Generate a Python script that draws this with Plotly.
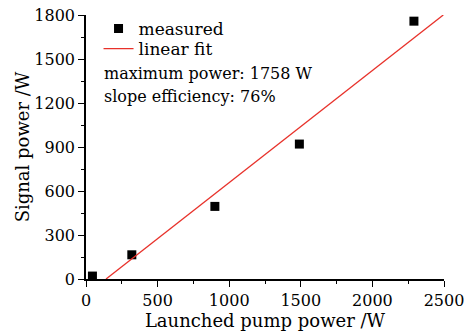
import plotly.graph_objects as go

pump = [45, 320, 900, 1490, 2290]
signal = [20, 165, 495, 920, 1758]
fit_x = [140, 2495]
fit_y = [0, 1800]
x_ticks = [0, 500, 1000, 1500, 2000, 2500]
y_ticks = [0, 300, 600, 900, 1200, 1500, 1800]

FONT = "DejaVu Serif"

fig = go.Figure()
fig.add_trace(go.Scatter(x=pump, y=signal, mode="markers", name="measured",
                         marker=dict(symbol="square", size=9, color="black"),
                         legend="legend"))
fig.add_trace(go.Scatter(x=fit_x, y=fit_y, mode="lines", name="linear fit",
                         line=dict(color="#e8312a", width=1.3), legend="legend2"))

leg_common = dict(xanchor="left", yanchor="middle", bgcolor="rgba(0,0,0,0)",
                  font=dict(size=17), itemwidth=30, borderwidth=0)

fig.update_layout(
    width=476, height=334,
    margin=dict(l=86, r=32, t=15, b=55, autoexpand=False),
    paper_bgcolor="white", plot_bgcolor="white",
    font=dict(family=FONT, size=16, color="black"),
    showlegend=True,
    legend=dict(x=0.035, y=1.0 - (29 - 15) / 264, **leg_common),
    legend2=dict(x=0.035, y=1.0 - (49 - 15) / 264, **leg_common),
    annotations=[
        dict(x=(102 - 86) / 358, y=1.0 - (73 - 15) / 264, xref="paper", yref="paper",
             xanchor="left", yanchor="middle",
             text="maximum power: 1758 W", showarrow=False, font=dict(size=16)),
        dict(x=(102 - 86) / 358, y=1.0 - (96 - 15) / 264, xref="paper", yref="paper",
             xanchor="left", yanchor="middle",
             text="slope efficiency: 76%", showarrow=False, font=dict(size=16)),
    ],
)
fig.update_xaxes(range=[0, 2500], tickvals=x_ticks, ticks="outside", ticklen=6,
                 tickwidth=1.2, tickcolor="black",
                 showline=True, linecolor="black", linewidth=1.5, showgrid=False,
                 zeroline=False, tickfont=dict(size=16), automargin=False,
                 minor=dict(dtick=250, ticks="outside", ticklen=3, tickcolor="black"),
                 title=dict(text="Launched pump power /W", font=dict(size=18), standoff=0))
fig.update_yaxes(range=[0, 1800], tickvals=y_ticks, ticks="outside", ticklen=6,
                 tickwidth=1.2, tickcolor="black",
                 showline=True, linecolor="black", linewidth=1.5, showgrid=False,
                 zeroline=False, tickfont=dict(size=16), automargin=False,
                 minor=dict(dtick=150, ticks="outside", ticklen=3, tickcolor="black"),
                 title=dict(text="Signal power /W", font=dict(size=18), standoff=0))

fig.write_html("out.html", post_script="document.body.style.margin='0';",
               config={"displayModeBar": False})
